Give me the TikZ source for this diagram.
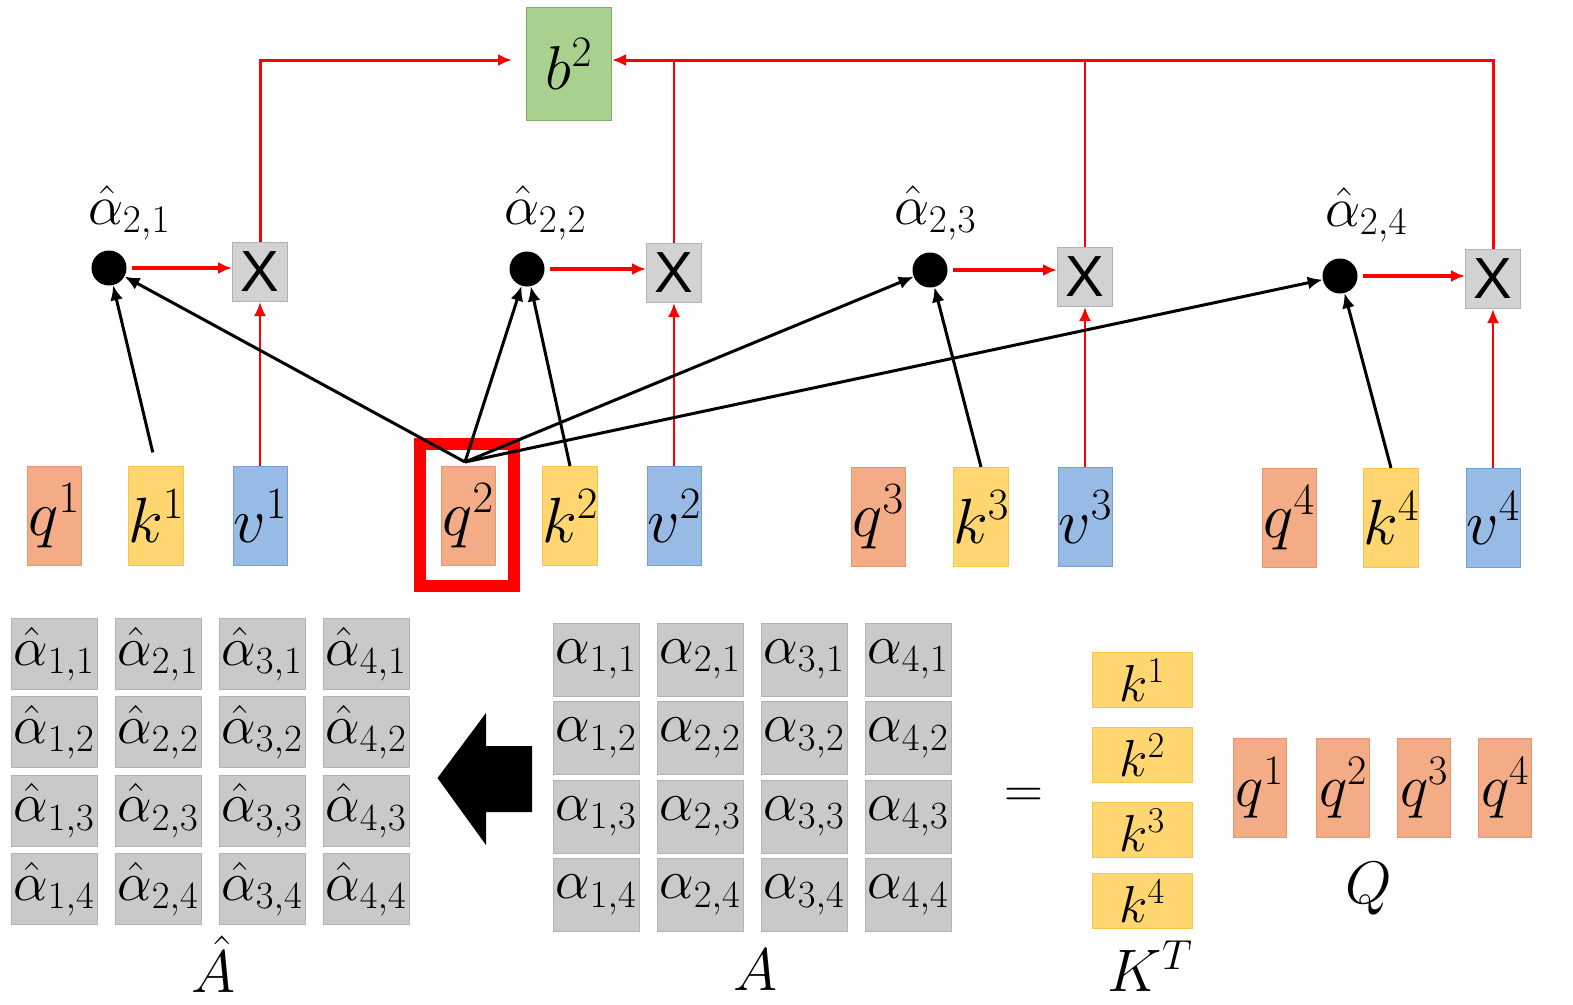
\RequirePackage{fix-cm}
\documentclass[tikz,border=0pt]{standalone}
\usepackage{fontspec}
\newfontfamily\xfont{Liberation Sans}
\usetikzlibrary{arrows.meta}
\definecolor{qcol}{RGB}{244,172,134}
\definecolor{qbor}{RGB}{228,150,112}
\definecolor{kcol}{RGB}{255,214,112}
\definecolor{kbor}{RGB}{250,196,72}
\definecolor{vcol}{RGB}{152,187,230}
\definecolor{vbor}{RGB}{118,158,208}
\definecolor{gcol}{RGB}{169,208,142}
\definecolor{gbor}{RGB}{128,172,102}
\definecolor{cellcol}{RGB}{201,201,201}
\definecolor{cellbor}{RGB}{178,178,178}
\definecolor{xcol}{RGB}{210,210,210}
\definecolor{hred}{RGB}{255,0,0}
\newcommand\fs[1]{\fontsize{#1}{#1}\selectfont}
\tikzset{
  vecbox/.style={minimum width=54pt, minimum height=99pt, inner sep=0pt, line width=1pt, font=\fs{64}},
  qb/.style={vecbox, fill=qcol, draw=qbor},
  kb/.style={vecbox, fill=kcol, draw=kbor},
  vb/.style={vecbox, fill=vcol, draw=vbor},
  ktb/.style={minimum width=100pt, minimum height=55pt, inner sep=0pt, line width=1pt, fill=kcol, draw=kbor, font=\fs{52}},
  qqb/.style={minimum width=53pt, minimum height=99pt, inner sep=0pt, line width=1pt, fill=qcol, draw=qbor, font=\fs{60}},
  cell/.style={fill=cellcol, draw=cellbor, line width=1pt, minimum width=86pt, minimum height=71pt, inner sep=0pt, font=\fs{55}},
  acell/.style={cell, minimum height=73pt},
  adot/.style={circle, fill=black, minimum size=35pt, inner sep=0pt},
  xbox/.style={fill=xcol, draw=cellbor, line width=1pt, minimum width=55pt, minimum height=59pt, inner sep=0pt, font={\xfont\fs{58}}},
  lab/.style={font=\fs{56}, inner sep=0pt},
  biglab/.style={font=\fs{60}, inner sep=0pt},
  redarr/.style={draw=hred, line width=2.5pt, -{Latex[length=14pt,width=12pt]}},
  redline/.style={draw=hred, line width=2.5pt},
  blkarr/.style={draw=black, line width=3pt, -{Latex[length=15pt,width=13pt]}},
}
\begin{document}
\begin{tikzpicture}[x=1pt,y=-1pt]
\useasboundingbox[fill=white] (0,0) rectangle (1573,1004);

% ---- top: output b^2
\node[fill=gcol, draw=gbor, line width=1pt, minimum width=85pt, minimum height=113pt, inner sep=0pt, font=\fs{62}] (b2) at (569,64) {$b^2$};
\coordinate (top) at (0,60);

% ---- bottom row q k v
\node[qb] (q1) at (54,516) {$q^1$};
\node[kb] (k1) at (156,516) {$k^1$};
\node[vb] (v1) at (260,516) {$v^1$};
\node[qb] (q2) at (468,516) {$q^2$};
\node[kb] (k2) at (570,516) {$k^2$};
\node[vb] (v2) at (674,516) {$v^2$};
\node[qb] (q3) at (878,517) {$q^3$};
\node[kb] (k3) at (981,517) {$k^3$};
\node[vb] (v3) at (1085,517) {$v^3$};
\node[qb] (q4) at (1289,518) {$q^4$};
\node[kb] (k4) at (1391,518) {$k^4$};
\node[vb] (v4) at (1493,518) {$v^4$};

% highlight frame
\node[draw=hred, line width=12pt, minimum width=94pt, minimum height=142pt, inner sep=0pt] (hl) at (467,515) {};

% ---- multiply boxes
\node[xbox] (x1) at (260,272) {X};
\node[xbox] (x2) at (674,273) {X};
\node[xbox] (x3) at (1085,277) {X};
\node[xbox] (x4) at (1493,279) {X};

% ---- attention dots
\node[adot] (d1) at (109,268) {};
\node[adot] (d2) at (527,269) {};
\node[adot] (d3) at (930,270) {};
\node[adot] (d4) at (1340,276) {};
\node[lab] (l1) at (129,213) {$\hat\alpha_{2,1}$};
\node[lab] (l2) at (545,213) {$\hat\alpha_{2,2}$};
\node[lab] (l3) at (935,213) {$\hat\alpha_{2,3}$};
\node[lab] (l4) at (1366,215) {$\hat\alpha_{2,4}$};

% ---- red connectors
\foreach \i in {1,2,3,4}{
  \draw[redarr, line width=3.5pt, shorten <=5pt] (d\i.east) -- (d\i.east -| x\i.west);
  \draw[redarr] (v\i) -- (x\i);
}
\draw[redarr, line width=3pt, shorten >=14pt] (x1.north) |- (top -| b2.west);
\draw[redarr, line width=3pt] (x4.north) |- (top -| b2.east);
\draw[redline] (x2.north) -- (x2.north |- top);
\draw[redline] (x3.north) -- (x3.north |- top);

% ---- black connectors
\coordinate (qs) at ([xshift=-3pt,yshift=4pt]q2.north);
\draw[blkarr, shorten <=14pt] (k1.north) -- (d1);
\draw[blkarr] (k2.north) -- (d2);
\draw[blkarr] (k3.north) -- (d3);
\draw[blkarr] (k4.north) -- (d4);
\draw[blkarr] (qs) -- (d1);
\draw[blkarr] (qs) -- (d2);
\draw[blkarr] (qs) -- (d3);
\draw[blkarr] (qs) -- (d4);

% ---- A-hat matrix and A matrix
\foreach \c in {1,2,3,4}{
  \foreach \r in {1,2,3,4}{
    \node[cell] (ah-\c-\r) at ({54+104*(\c-1)},{654+78.3*(\r-1)}) {$\hat\alpha_{\c,\r}$};
    \node[acell] (a-\c-\r) at ({596+104*(\c-1)},{659.5+78.5*(\r-1)}) {$\alpha_{\c,\r}$};
  }
}
\node[biglab] (Ahat) at (214,964) {$\hat A$};
\node[biglab] (Alab) at (756,970) {$A$};

% big block arrow
\fill[black] (437.5,778) -- (486,713) -- (486,746) -- (532,746) -- (532,812) -- (486,812) -- (486,845) -- cycle;

% equals
\node[font=\fs{54}, inner sep=0pt] (eq) at (1024,798) {$=$};

% K^T column
\node[ktb] (kt1) at (1142,680) {$k^1$};
\node[ktb] (kt2) at (1142,755) {$k^2$};
\node[ktb] (kt3) at (1142,830) {$k^3$};
\node[ktb] (kt4) at (1142,901) {$k^4$};
\node[biglab] (KT) at (1150,966) {$K^T$};

% Q row
\node[qqb] (Q1) at (1259.5,787.5) {$q^1$};
\node[qqb] (Q2) at (1343,787.5) {$q^2$};
\node[qqb] (Q3) at (1424,787.5) {$q^3$};
\node[qqb] (Q4) at (1505,787.5) {$q^4$};
\node[biglab] (Qlab) at (1369,889) {$Q$};
\end{tikzpicture}
\end{document}
